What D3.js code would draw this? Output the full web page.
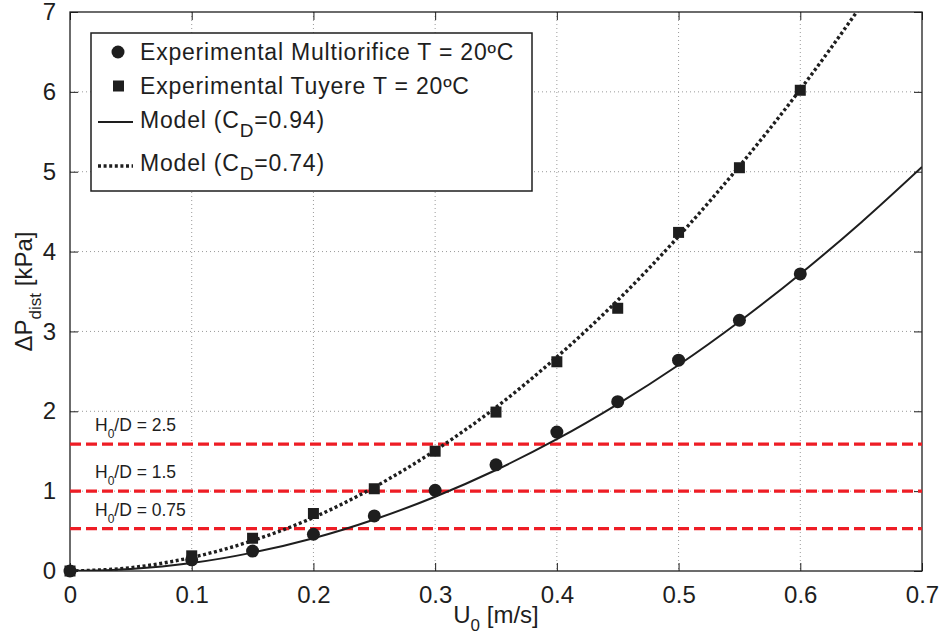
<!DOCTYPE html>
<meta charset="utf-8">
<body style="margin:0;background:#fff">
<div id="chart"></div>
<script src="https://cdn.jsdelivr.net/npm/d3@7"></script>
<script>
//svg sizes and margins
var margin = {top: 12, right: 19, bottom: 67, left: 70},
    width = 941 - margin.left - margin.right,
    height = 638 - margin.top - margin.bottom;

//experimental points
var velocity = [0, 0.1, 0.15, 0.2, 0.25, 0.3, 0.35, 0.4, 0.45, 0.5, 0.55, 0.6];
var multiorifice = [0, 0.14, 0.25, 0.46, 0.69, 1.01, 1.33, 1.74, 2.12, 2.64, 3.14, 3.72];
var tuyere = [0, 0.19, 0.41, 0.72, 1.03, 1.50, 1.99, 2.62, 3.29, 4.24, 5.05, 6.02];

//model curves
var modelU = [0, 0.05, 0.1, 0.15, 0.2, 0.25, 0.3, 0.35, 0.4, 0.45, 0.5, 0.55, 0.6, 0.65, 0.7];
var model094 = [0, 0.025, 0.10, 0.23, 0.41, 0.645, 0.93, 1.265, 1.65, 2.09, 2.58, 3.125, 3.72, 4.365, 5.06];
var model074 = [0, 0.042, 0.17, 0.38, 0.67, 1.05, 1.51, 2.05, 2.68, 3.39, 4.19, 5.07, 6.03, 7.08, 8.2];

//bed height limits
var limitValues = [2.5, 1.5, 0.75];
var limitDp = [1.59, 1.0, 0.53];

var xTicks = [0, 0.1, 0.2, 0.3, 0.4, 0.5, 0.6, 0.7];
var yTicks = [0, 1, 2, 3, 4, 5, 6, 7];

var font = "'Liberation Sans', Arial, Helvetica, sans-serif";
var ink = "#1e1e1e";

var svg = d3.select("#chart").append("svg")
    .attr("width", width + margin.left + margin.right)
    .attr("height", height + margin.top + margin.bottom)
    .style("font-family", font)
    .append("g")
    .attr("transform", "translate(" + margin.left + "," + margin.top + ")");

var x = d3.scaleLinear().domain([0, 0.7]).range([0, width]);
var y = d3.scaleLinear().domain([0, 7]).range([height, 0]);

svg.append("clipPath").attr("id", "clip")
    .append("rect").attr("width", width).attr("height", height);

//dotted grid
var grid = svg.append("g").attr("stroke", "#9a9a9a").attr("stroke-width", 1)
    .attr("stroke-dasharray", "1,3");
grid.selectAll(".gx").data(xTicks.slice(1, -1)).enter().append("line")
    .attr("x1", function (d) { return x(d); }).attr("x2", function (d) { return x(d); })
    .attr("y1", 0).attr("y2", height);
grid.selectAll(".gy").data(yTicks.slice(1, -1)).enter().append("line")
    .attr("y1", function (d) { return y(d); }).attr("y2", function (d) { return y(d); })
    .attr("x1", 0).attr("x2", width);

//axes with inward ticks on all four sides
function styleAxis(g) {
    g.select(".domain").remove();
    g.selectAll(".tick line").attr("stroke", ink);
    g.selectAll(".tick text").attr("fill", ink).style("font-size", "24px").style("font-family", font);
}
svg.append("g").attr("transform", "translate(0," + height + ")")
    .call(d3.axisBottom(x).tickValues(xTicks).tickSizeInner(-8).tickPadding(15)
        .tickFormat(function (d) { return d === 0 ? "0" : d3.format(".1f")(d); }))
    .call(styleAxis);
svg.append("g")
    .call(d3.axisLeft(y).tickValues(yTicks).tickSizeInner(-8).tickPadding(14).tickFormat(d3.format("d")))
    .call(styleAxis);
svg.append("g")
    .call(d3.axisTop(x).tickValues(xTicks).tickSizeInner(-8).tickFormat(""))
    .call(styleAxis);
svg.append("g").attr("transform", "translate(" + width + ",0)")
    .call(d3.axisRight(y).tickValues(yTicks).tickSizeInner(-8).tickFormat(""))
    .call(styleAxis);

svg.append("rect").attr("width", width).attr("height", height)
    .attr("fill", "none").attr("stroke", ink).attr("stroke-width", 1.3);

//red limit lines
svg.selectAll(".limit").data(limitDp).enter().append("line")
    .attr("x1", 0).attr("x2", width)
    .attr("y1", function (d) { return y(d); }).attr("y2", function (d) { return y(d); })
    .attr("stroke", "#ee1d25").attr("stroke-width", 3.2).attr("stroke-dasharray", "11,5");

var lbl = svg.selectAll(".limitLabel").data(limitDp).enter().append("text")
    .attr("x", 25)
    .attr("y", function (d) { return y(d) - 13; })
    .attr("fill", ink).style("font-size", "17.5px");
lbl.append("tspan").text("H");
lbl.append("tspan").attr("dy", 7).style("font-size", "12px").text("0");
lbl.append("tspan").attr("dy", -7).text(function (d, i) { return "/D = " + limitValues[i]; });

//model curves
var line = d3.line()
    .x(function (d) { return x(d[0]); })
    .y(function (d) { return y(d[1]); })
    .curve(d3.curveMonotoneX);

var curves = svg.append("g").attr("clip-path", "url(#clip)");
curves.append("path")
    .datum(modelU.map(function (u, i) { return [u, model094[i]]; }))
    .attr("d", line).attr("fill", "none").attr("stroke", ink).attr("stroke-width", 2);
curves.append("path")
    .datum(modelU.map(function (u, i) { return [u, model074[i]]; }))
    .attr("d", line).attr("fill", "none").attr("stroke", ink).attr("stroke-width", 3.4)
    .attr("stroke-dasharray", "3,2.6");

//experimental markers
svg.selectAll(".circ").data(velocity).enter().append("circle")
    .attr("cx", function (d) { return x(d); })
    .attr("cy", function (d, i) { return y(multiorifice[i]); })
    .attr("r", 6.5).attr("fill", ink);
svg.selectAll(".sq").data(velocity).enter().append("rect")
    .attr("x", function (d) { return x(d) - 5.5; })
    .attr("y", function (d, i) { return y(tuyere[i]) - 5.5; })
    .attr("width", 11).attr("height", 11).attr("fill", ink);

//legend
var legend = svg.append("g").attr("transform", "translate(21,21)");
legend.append("rect").attr("width", 441).attr("height", 158)
    .attr("fill", "#fff").attr("stroke", ink).attr("stroke-width", 1.5);
var rows = [19, 53, 89, 133];
legend.append("circle").attr("cx", 27).attr("cy", rows[0]).attr("r", 6.5).attr("fill", ink);
legend.append("rect").attr("x", 22).attr("y", rows[1] - 5.5).attr("width", 11).attr("height", 11).attr("fill", ink);
legend.append("line").attr("x1", 7).attr("x2", 42).attr("y1", rows[2]).attr("y2", rows[2])
    .attr("stroke", ink).attr("stroke-width", 2);
legend.append("line").attr("x1", 7).attr("x2", 42).attr("y1", rows[3]).attr("y2", rows[3])
    .attr("stroke", ink).attr("stroke-width", 3.4).attr("stroke-dasharray", "3,2.6");

function legendText(yy, parts) {
    var t = legend.append("text").attr("x", 49).attr("y", yy).attr("fill", ink)
        .style("font-size", "23px").style("letter-spacing", "0.8px");
    parts.forEach(function (p) {
        var s = t.append("tspan").text(p.t);
        if (p.dy) s.attr("dy", p.dy);
        if (p.small) s.style("font-size", "19px");
    });
}
legendText(rows[0] + 8, [{t: "Experimental Multiorifice T = 20ºC"}]);
legendText(rows[1] + 8, [{t: "Experimental Tuyere T = 20ºC"}]);
legendText(rows[2] + 6, [{t: "Model (C"}, {t: "D", dy: 9, small: true}, {t: "=0.94)", dy: -9}]);
legendText(rows[3] + 5, [{t: "Model (C"}, {t: "D", dy: 9, small: true}, {t: "=0.74)", dy: -9}]);

//axis titles
var xt = svg.append("text").attr("x", width / 2).attr("y", height + 52)
    .attr("text-anchor", "middle").attr("fill", ink).style("font-size", "24px");
xt.append("tspan").text("U");
xt.append("tspan").attr("dy", 8).style("font-size", "17px").text("0");
xt.append("tspan").attr("dy", -8).text(" [m/s]");

var yt = svg.append("text")
    .attr("transform", "translate(" + (-38) + "," + (height / 2) + ") rotate(-90)")
    .attr("text-anchor", "middle").attr("fill", ink).style("font-size", "24px");
yt.append("tspan").text("ΔP");
yt.append("tspan").attr("dy", 9).style("font-size", "17px").text("dist");
yt.append("tspan").attr("dy", -9).text(" [kPa]");
</script>
</body>
